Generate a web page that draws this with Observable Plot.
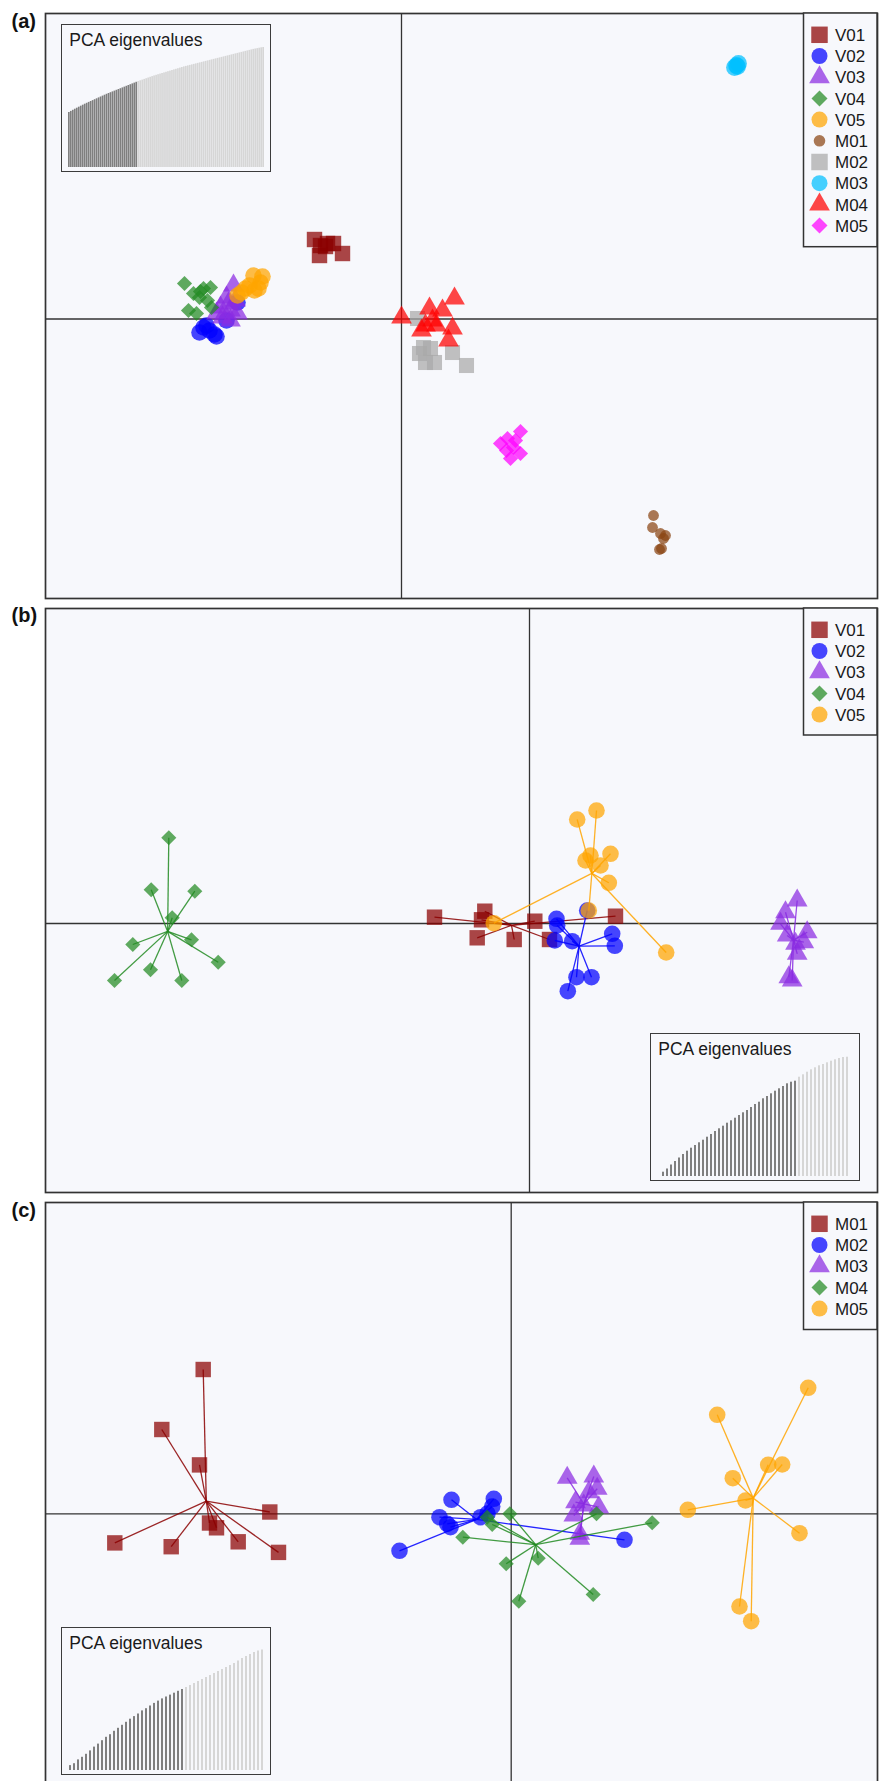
<!DOCTYPE html>
<html><head><meta charset="utf-8">
<script src="https://cdn.jsdelivr.net/npm/d3@7"></script>
<script src="https://cdn.jsdelivr.net/npm/@observablehq/plot@0.6"></script>
<style>
html,body{margin:0;padding:0;background:#fff;overflow:hidden;}
#root{position:relative;width:882px;height:1781px;font-family:"Liberation Sans",Arial,sans-serif;}
.pane{position:absolute;left:0;}
.inset{position:absolute;border:1.5px solid #3c3c3c;background:#f7f8fc;width:208px;height:146px;}
.inset svg{display:block;}
</style></head><body><div id="root"></div>
<script>
// ---------------- DATA ----------------
// panel (a): all ten populations (PC1, PC2)
const groupsA = ["V01","V02","V03","V04","V05","M01","M02","M03","M04","M05"];
const A_V01 = [[-8.7,7.95],[-8.1,7.35],[-7.4,7.55],[-6.8,7.55],[-7.6,7.25],[-8.2,6.35],[-5.9,6.55]];
const A_V02 = [[-19.8,-0.85],[-20.2,-1.35],[-19.2,-1.15],[-18.5,-1.75],[-16.4,1.65],[-17.5,-0.15],[-19.5,-0.65],[-18.7,-1.55]];
const A_V03 = [[-16.8,3.35],[-17.5,2.15],[-18.1,1.15],[-17.1,0.85],[-16.4,0.55],[-17.9,0.15],[-17.1,-0.15],[-18.5,0.55],[-17.3,1.55],[-16.6,1.85]];
const A_V04 = [[-21.7,3.55],[-20.8,2.55],[-19.8,3.05],[-19.1,3.15],[-20.2,2.15],[-21.3,0.85],[-20.5,0.55],[-19.4,1.85],[-19.0,1.15],[-20.1,2.75]];
const A_V05 = [[-14.8,4.35],[-14.1,3.65],[-14.7,2.85],[-15.6,3.05],[-16.4,2.35],[-14.3,3.05],[-15.2,3.35],[-13.9,4.25],[-16.0,2.65]];
const A_M01 = [[25.2,-19.65],[25.1,-20.85],[25.9,-21.45],[26.4,-21.65],[26.2,-21.95],[25.8,-23.05],[26.0,-22.95]];
const A_M02 = [[1.6,0.05],[1.8,-3.45],[2.9,-2.95],[2.4,-4.35],[3.3,-4.35],[5.1,-3.35],[6.5,-4.65],[2.2,-2.85]];
const A_M03 = [[33.5,25.35],[33.7,25.55],[33.3,25.15],[33.6,25.25]];
const A_M04 = [[0,0.15],[2.8,1.05],[4.1,0.85],[5.3,2.05],[2.4,-0.65],[3.5,-0.65],[5.1,-0.95],[4.7,-2.15],[2.0,-1.15],[3.1,-0.15]];
const A_M05 = [[11.9,-11.25],[10.6,-11.95],[9.9,-12.45],[11.2,-12.85],[11.9,-13.45],[10.9,-13.95],[11.4,-12.15],[10.5,-13.15]];

// panel (b): V populations
const groupsB = ["V01","V02","V03","V04","V05"];
const B_V01 = [[-9.5,0.63],[-4.47,1.23],[-4.8,0.37],[-5.23,-1.43],[-1.53,-1.6],[0.53,0.23],[2.0,-1.6],[8.6,0.73]];
const B_V02 = [[2.7,0.47],[2.77,-0.2],[2.53,-1.7],[4.27,-1.77],[5.77,1.3],[8.27,-1.03],[8.53,-2.23],[4.7,-5.37],[6.2,-5.37],[3.83,-6.77]];
const B_V03 = [[26.77,2.3],[25.6,1.13],[25.1,-0.03],[25.77,-1.2],[27.77,-0.87],[27.43,-1.87],[26.6,-2.03],[26.77,-3.03],[25.93,-5.37],[26.27,-5.7]];
const B_V04 = [[-36.07,8.57],[-37.83,3.37],[-33.47,3.23],[-35.73,0.57],[-39.67,-2.1],[-33.8,-1.63],[-31.13,-3.87],[-37.9,-4.63],[-41.5,-5.7],[-34.77,-5.7]];
const B_V05 = [[4.77,10.4],[6.7,11.3],[6.1,6.8],[5.6,6.3],[8.1,6.97],[7.1,5.8],[7.93,4.07],[5.93,1.3],[-3.57,0.03],[13.67,-2.9]];

// panel (c): M populations
const groupsC = ["M01","M02","M03","M04","M05"];
const C_M01 = [[-30.8,14.43],[-34.94,8.43],[-31.17,4.89],[-24.14,0.18],[-39.64,-2.91],[-34.0,-3.29],[-30.17,-0.92],[-29.47,-1.4],[-27.3,-2.8],[-23.27,-3.86]];
const C_M02 = [[-5.97,1.4],[-1.74,1.5],[-1.9,0.73],[-7.17,-0.34],[-6.4,-1.0],[-6.07,-1.34],[-3.07,-0.34],[-11.17,-3.7],[11.33,-2.6],[-2.37,0.03]];
const C_M03 = [[5.6,3.6],[8.26,3.73],[8.6,2.5],[7.76,2.16],[6.43,1.16],[7.26,0.83],[8.76,0.66],[6.26,-0.17],[6.86,-2.0],[6.86,-2.5]];
const C_M04 = [[-0.14,0],[-1.9,-1.07],[-2.4,-0.34],[-4.84,-2.34],[-0.5,-5.0],[2.7,-4.44],[0.76,-8.74],[8.2,-8.07],[8.53,0],[14.1,-0.9]];
const C_M05 = [[29.7,12.6],[20.6,9.9],[22.16,3.56],[25.7,4.9],[27.1,4.93],[23.43,1.33],[17.66,0.4],[28.83,-1.94],[22.83,-9.27],[24.0,-10.74]];

// PCA eigenvalue insets (kept axes dark)
const eigA = [55,56.1,57.2,58.3,59.3,60.3,61.3,62.3,63.3,64.2,65.1,66,66.9,67.8,68.7,69.6,70.5,71.4,72.3,73.2,74,74.8,75.6,76.4,77.2,78,78.8,79.6,80.4,81.2,82,82.8,83.6,84.4,85.2,
  86,86.7,87.4,88.1,88.8,89.5,90.2,90.9,91.6,92.2,92.8,93.4,94,94.6,95.2,95.8,96.4,97,97.6,98.2,98.8,99.4,100,100.6,101.1,101.6,102.1,102.6,103.1,103.6,
  104.1,104.6,105.1,105.6,106.1,106.6,107.1,107.6,108.1,108.6,109.1,109.6,110.1,110.6,111.1,111.6,112.1,112.6,113.1,113.6,114.1,114.6,115.1,115.6,116.1,116.6,117.1,117.6,118.1,118.5,118.9,119.3,119.7,120];
const keptA = 35;
const eigB = [4.3,7.5,11.5,15,18.5,22,25.3,28.3,31,33.7,36.3,39.3,42,45,47.7,50.3,53.3,55.7,58.3,61,63.7,66,69,72,74.3,77.7,80,82.7,85.3,87.7,90,92.7,94.3,95.3,
  99.3,101.7,104.3,106.7,108.7,110.7,112,113.7,115.3,116.7,118,119,119.3];
const keptB = 34;
const eigC = [4.9,6.8,10.6,13.2,16.2,19.6,23.4,26.4,29.8,33.2,35.8,39.2,42.2,45.2,48.2,51.3,53.9,56.5,59.6,61.8,64.5,67.1,69.4,71.6,73.5,75.4,77.3,79.2,81,
  83,85,87,89,91,93,95,97,99,101,103,105,107,109.5,112,114,116,118,119.5,120.5];
const keptC = 29;

// ---------------- STYLES ----------------
const BG = "#f7f8fc";
const FONT = '"Liberation Sans", Arial, Helvetica, sans-serif';
const ST = {
  sqRed:   {symbol: d3.symbolSquare,   color: "#8b0000", r: 8.7, lr: 9.3},
  cirBlue: {symbol: d3.symbolCircle,   color: "#0000ff", r: 8.3, lr: 8.0},
  triPur:  {symbol: d3.symbolTriangle, color: "#8a2be2", r: 7.7, lr: 7.7},
  diaGrn:  {symbol: d3.symbolDiamond2, color: "#228b22", r: 6.8, lr: 7.2},
  cirOrg:  {symbol: d3.symbolCircle,   color: "#ffa500", r: 8.3, lr: 8.0},
  cirBrn:  {symbol: d3.symbolCircle,   color: "#8b4513", r: 5.4, lr: 5.8},
  sqGry:   {symbol: d3.symbolSquare,   color: "#a9a9a9", r: 8.5, lr: 9.3},
  cirCyn:  {symbol: d3.symbolCircle,   color: "#00bfff", r: 8.4, lr: 8.0},
  triRed:  {symbol: d3.symbolTriangle, color: "#ff0000", r: 7.7, lr: 7.7},
  diaMag:  {symbol: d3.symbolDiamond2, color: "#ff00ff", r: 6.8, lr: 7.2}
};
const stylesA = ["sqRed","cirBlue","triPur","diaGrn","cirOrg","cirBrn","sqGry","cirCyn","triRed","diaMag"];
const styles5 = ["sqRed","cirBlue","triPur","diaGrn","cirOrg"];
const OP = 0.72;

const root = document.getElementById("root");

function panel({names, values, styles, xDomain, yDomain, top, height, mt, mb, stars}) {
  const marks = [Plot.frame({fill: BG, stroke: "none"}),
    Plot.ruleX([0], {stroke: "#333", strokeWidth: 1.3}),
    Plot.ruleY([0], {stroke: "#333", strokeWidth: 1.3})];
  names.forEach((name, i) => {
    const st = ST[styles[i]];
    const pts = values[i].map(([x, y]) => ({x, y}));
    marks.push(Plot.dot(pts, {x: "x", y: "y", symbol: st.symbol, r: st.r, fill: st.color, fillOpacity: OP, stroke: "none"}));
    if (stars) {
      const cx = d3.mean(pts, d => d.x), cy = d3.mean(pts, d => d.y);
      marks.push(Plot.link(pts, {x1: () => cx, y1: () => cy, x2: "x", y2: "y", stroke: st.color, strokeWidth: 1.3, strokeOpacity: 0.85}));
    }
  });
  marks.push(Plot.frame({stroke: "#333", strokeWidth: 1.7}));
  const svg = Plot.plot({
    width: 882, height, marginLeft: 45, marginRight: 5, marginTop: mt, marginBottom: mb,
    x: {type: "linear", domain: xDomain, axis: null},
    y: {type: "linear", domain: yDomain, axis: null},
    style: {background: "transparent", fontFamily: FONT},
    marks
  });
  const div = document.createElement("div");
  div.className = "pane"; div.style.top = top + "px";
  div.appendChild(svg);
  root.appendChild(div);
}

panel({names: groupsA, values: [A_V01,A_V02,A_V03,A_V04,A_V05,A_M01,A_M02,A_M03,A_M04,A_M05], styles: stylesA,
  xDomain: [-35.6, 47.6], yDomain: [-27.95, 30.55], top: 0, height: 600, mt: 13, mb: 2, stars: false});
panel({names: groupsB, values: [B_V01,B_V02,B_V03,B_V04,B_V05], styles: styles5,
  xDomain: [-48.4, 34.8], yDomain: [-26.9, 31.5], top: 600, height: 595, mt: 8, mb: 3, stars: true});
panel({names: groupsC, values: [C_M01,C_M02,C_M03,C_M04,C_M05], styles: styles5,
  xDomain: [-46.57, 36.63], yDomain: [-26.87, 31.13], top: 1195, height: 590, mt: 7, mb: 3, stars: true});

function inset(vals, kept, pad, left, top) {
  const data = vals.map((v, i) => ({i, v, c: i < kept ? "#7f7f7f" : "#d6d6d6"}));
  const svg = Plot.plot({
    width: 208, height: 146, marginLeft: 6, marginRight: 6, marginTop: 22, marginBottom: 4,
    x: {type: "band", domain: d3.range(vals.length), paddingInner: pad, paddingOuter: 0, axis: null},
    y: {domain: [0, 120], axis: null},
    color: {type: "identity"},
    style: {background: "transparent", fontFamily: FONT},
    marks: [
      Plot.barY(data, {x: "i", y: "v", fill: "c"}),
      Plot.text(["PCA eigenvalues"], {frameAnchor: "top-left", textAnchor: "start", lineAnchor: "bottom", dx: 0.8, dy: -1.3, fontSize: 17.5, fill: "#1a1a1a"})
    ]
  });
  const div = document.createElement("div");
  div.className = "inset"; div.style.left = left + "px"; div.style.top = top + "px";
  div.appendChild(svg);
  root.appendChild(div);
}
inset(eigA, keptA, 0.15, 61, 24.3);
inset(eigB, keptB, 0.5, 650.3, 1033);
inset(eigC, keptC, 0.5, 61, 1627.3);

// overlay: panel labels + legends
const ov = d3.create("svg").attr("width", 882).attr("height", 1781)
  .style("position", "absolute").style("left", "0px").style("top", "0px")
  .style("font-family", FONT);
[["(a)", 27.5], ["(b)", 622], ["(c)", 1216.5]].forEach(([t, y]) => {
  ov.append("text").attr("x", 11.5).attr("y", y).attr("font-size", 20).attr("font-weight", "bold").attr("fill", "#111").text(t);
});
function legend(names, styles, top, bottom) {
  ov.append("rect").attr("x", 803.5).attr("y", top).attr("width", 877 - 803.5).attr("height", bottom - top)
    .attr("fill", BG).attr("stroke", "#333").attr("stroke-width", 1.5);
  names.forEach((n, i) => {
    const st = ST[styles[i]];
    const cy = top + 21.8 + i * 21.2;
    ov.append("path").attr("transform", `translate(819.5,${cy})`)
      .attr("d", d3.symbol(st.symbol, Math.PI * st.lr * st.lr)())
      .attr("fill", st.color).attr("fill-opacity", OP);
    ov.append("text").attr("x", 835).attr("y", cy + 6.1).attr("font-size", 17).attr("fill", "#1a1a1a").text(n);
  });
}
legend(groupsA, stylesA, 13, 246.7);
legend(groupsB, styles5, 608, 735);
legend(groupsC, styles5, 1202, 1329.5);
root.appendChild(ov.node());
</script></body></html>
